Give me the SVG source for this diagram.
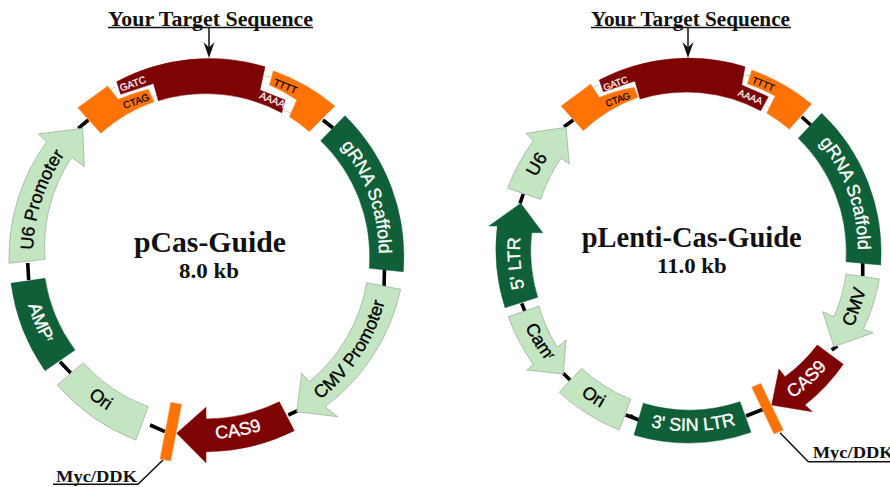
<svg xmlns="http://www.w3.org/2000/svg" xmlns:xlink="http://www.w3.org/1999/xlink" width="890" height="487" viewBox="0 0 890 487">
<style>
.lg{fill:#c3e5c1;stroke:#9aa89a;stroke-width:.7}
.dg{fill:#0f5f38;stroke:#0f5f38;stroke-width:.5}
.dr{fill:#7e0303;stroke:#7e0303;stroke-width:.5}
.or{fill:#ff7305;stroke:#e8a070;stroke-width:.5}
.bb{fill:none;stroke:#000;stroke-width:3.6}
.th{fill:none;stroke:#111;stroke-width:1.5}
.tl{font-family:"Liberation Sans",Arial,sans-serif;font-size:18px;text-anchor:middle;stroke-width:.35}
.k{fill:#000;stroke:#000}.w{fill:#fff;stroke:#fff}
.sm{font-family:"Liberation Sans",Arial,sans-serif;font-size:10px;text-anchor:middle;stroke-width:.2}
.sb{font-size:9.5px}
.se{font-family:"Liberation Serif","Times New Roman",serif;font-weight:bold;fill:#111}
</style>
<defs>
<path id="cwA" d="M33,254A173,173 0 0 1 379,254"/>
<path id="ccA" d="M21,254A185,185 0 0 0 391,254"/>
<path id="cwB" d="M520,250A169,169 0 0 1 858,250"/>
<path id="ccB" d="M508,250A181,181 0 0 0 870,250"/>
</defs>
<rect width="890" height="487" fill="#fff"/>
<g id="connectors">
<path class="bb" d="M78.3,128.3L88.3,120M323,120L333,128M384.5,268L384,288M288.3,415L297.7,410.7M150,425L165,431.7M60,361.7L70.7,373M27.7,263L28.7,280"/>
<path class="bb" d="M564,126.7L573.3,120M801.7,116.7L810.7,125M862.7,262L862.7,276M831.7,350L837.3,346M520,203.3L523.3,194M521.7,303.3L525,311.7M563.3,373.3L570,380M625.7,415L639.3,420M630,415.7L638,420M746,416L763.3,409.3"/>
<path class="th" d="M163,460L138,484.3H53"/>
<path class="th" d="M780,432.7L808.3,461.7H890"/>
<path class="th" d="M209,27V50M108,27.5H313"/>
<path class="th" d="M688,27V50M591,27.5H791"/>
<path fill="#111" d="M203.5,42L209,58L214.5,42L209,47.5Z"/>
<path fill="#111" d="M682.5,42L688,58L693.5,42L688,47.5Z"/>
<path fill="none" stroke="#ccc" stroke-width="1" d="M109,91L115,87M152,97L157,95M265,76L270,77M286,111L291,113M593,88L598,85M637,92L642,91M746,75L751,76M766,105L770,108"/>
</g>
<g id="title-a"><text class="se" x="108" y="26" font-size="20" textLength="205" lengthAdjust="spacingAndGlyphs">Your Target Sequence</text></g>
<g id="title-b"><text class="se" x="591" y="26" font-size="20" textLength="199" lengthAdjust="spacingAndGlyphs">Your Target Sequence</text></g>
<g id="center-a"><text class="se" x="134" y="251.7" font-size="30" textLength="152" lengthAdjust="spacingAndGlyphs">pCas-Guide</text><text class="se" x="179" y="278" font-size="20" textLength="60" lengthAdjust="spacingAndGlyphs">8.0 kb</text></g>
<g id="center-b"><text class="se" x="581.7" y="246.7" font-size="30" textLength="220" lengthAdjust="spacingAndGlyphs">pLenti-Cas-Guide</text><text class="se" x="657" y="272.7" font-size="20" textLength="69.7" lengthAdjust="spacingAndGlyphs">11.0 kb</text></g>

<g id="a-insert">
<path class="dr" d="M116.7,81.7A196,196 0 0 1 265,66.7L260,90L285,100L281.7,112.7A161,161 0 0 0 158.3,100.7L153.5,83.5L120.7,94.3Z"/>
<path class="or" d="M77.7,107.7L107.7,86L118.3,99.3A175,175 0 0 1 148.3,89.3L154.3,101.7A161,161 0 0 0 100.7,133.3Z"/>
<path class="or" d="M273.3,70.7A196,196 0 0 1 335,106L309.3,131.7A161,161 0 0 0 289.3,116.7L296.7,100A175,175 0 0 0 269.3,85Z"/>
<text class="sm w" transform="translate(134,87) rotate(-20)">GATC</text>
<text class="sm k" transform="translate(137.3,104.5) rotate(-20)">CTAG</text>
<text class="sm k" transform="translate(284,89.5) rotate(22)">TTTT</text>
<text class="sm w" transform="translate(271,103) rotate(22)">AAAA</text>
</g>
<g id="a-u6"><path class="lg" d="M9,263.3A198,198 0 0 1 46.7,141.7L38.3,134L82.7,128.3L84.3,166.7L71.7,157.3A165,165 0 0 0 45,259.3Z"/>
<text class="tl k" transform="rotate(-71.8 206 254)"><textPath href="#cwA" xlink:href="#cwA" startOffset="50%">U6 Promoter</textPath></text></g>
<g id="a-grna"><path class="dg" d="M345,115.7L320.7,140.7A161,161 0 0 1 369.3,268.3L403.3,271.7A198,198 0 0 0 345,115.7Z"/>
<text class="tl w" transform="rotate(70.6 206 254)"><textPath href="#cwA" xlink:href="#cwA" startOffset="50%">gRNA Scaffold</textPath></text></g>
<g id="a-cmv"><path class="lg" d="M366.7,282.7L400.7,289.3A198,198 0 0 1 325,406.7L337.7,416.7L296.7,411.7L301.7,373.3L309.3,381.7A163,163 0 0 0 366.7,282.7Z"/>
<text class="tl k" transform="rotate(-56.5 206 254)"><textPath href="#ccA" xlink:href="#ccA" startOffset="50%">CMV Promoter</textPath></text></g>
<g id="a-cas9"><path class="dr" d="M176.7,433.3L206,407.3V419A165,165 0 0 0 279.3,401.7L294.3,430.7A198,198 0 0 1 206,451.7V462.7Z"/>
<text class="tl w" transform="rotate(-10.3 206 254)"><textPath href="#ccA" xlink:href="#ccA" startOffset="50%">CAS9</textPath></text></g>
<g id="a-myc"><path class="or" d="M170.7,402.3L181.7,404.3L170.7,461L160,459Z"/>
<text class="se" x="56" y="481.5" font-size="16" textLength="81" lengthAdjust="spacingAndGlyphs">Myc/DDK</text></g>
<g id="a-ori"><path class="lg" d="M83.3,362.7A161,161 0 0 0 148.3,406.7L135.7,440A198,198 0 0 1 57.3,385Z"/>
<text class="tl k" transform="rotate(35.9 206 254)"><textPath href="#ccA" xlink:href="#ccA" startOffset="50%">Ori</textPath></text></g>
<g id="a-amp"><path class="dg" d="M11,283.3L45,278.3A161,161 0 0 0 75,350L45,370.7A198,198 0 0 1 11,283.3Z"/>
<text class="tl w" transform="rotate(67.4 206 254)"><textPath href="#ccA" xlink:href="#ccA" startOffset="50%">AMP<tspan font-size="9" dy="-5">r</tspan></textPath></text></g>

<g id="b-insert">
<path class="dr" d="M599.3,80A192,192 0 0 1 745,66.7L741.7,85L768.3,96.7L760.7,110.7A158,158 0 0 0 640,99L635,81L603.3,91.7Z"/>
<path class="or" d="M561,106L590.7,84L599.3,97.3A172,172 0 0 1 634,87.3L638.3,97.3A158,158 0 0 0 583.3,130.7Z"/>
<path class="or" d="M751.7,70A192,192 0 0 1 811.7,104L789.3,129.3A158,158 0 0 0 766.7,113.3L775,96A172,172 0 0 0 747.3,84Z"/>
<text class="sm sb w" transform="translate(616.7,86.5) rotate(-20)">GATC</text>
<text class="sm sb k" transform="translate(619,102.5) rotate(-20)">CTAG</text>
<text class="sm sb k" transform="translate(762,87) rotate(22)">TTTT</text>
<text class="sm sb w" transform="translate(749,100) rotate(22)">AAAA</text>
</g>
<g id="b-u6"><path class="lg" d="M507.7,188.3A192,192 0 0 1 533.3,140.7L526,133.3L566,127.3L569.3,164L561,158.3A158,158 0 0 0 540.7,199.3Z"/>
<text class="tl k" transform="rotate(-60.6 689 250)"><textPath href="#cwB" xlink:href="#cwB" startOffset="50%">U6</textPath></text></g>
<g id="b-ltr5"><path class="dg" d="M505,307.7L537.7,297.3A158,158 0 0 1 531.7,232.7H542.7L520.7,203.3L489,226H497.3A193,193 0 0 0 505,307.7Z"/>
<text class="tl w" transform="rotate(-94.4 689 250)"><textPath href="#cwB" xlink:href="#cwB" startOffset="50%">5' LTR</textPath></text></g>
<g id="b-cam"><path class="lg" d="M508.3,316.7L539,306A158,158 0 0 0 557.3,347.3L566,340L563.3,374L526.7,370L533.3,364.3A192,192 0 0 1 508.3,316.7Z"/>
<text class="tl k" transform="rotate(58.4 689 250)"><textPath href="#ccB" xlink:href="#ccB" startOffset="50%">Cam<tspan font-size="9" dy="-5">r</tspan></textPath></text></g>
<g id="b-ori"><path class="lg" d="M581.7,368.3A158,158 0 0 0 630.7,399.3L619.3,430A192,192 0 0 1 559.3,392.3Z"/>
<text class="tl k" transform="rotate(33 689 250)"><textPath href="#ccB" xlink:href="#ccB" startOffset="50%">Ori</textPath></text></g>
<g id="b-ltr3"><path class="dg" d="M643.3,403.3A160,160 0 0 0 740,401.7L751,432.3A192,192 0 0 1 634,435Z"/>
<text class="tl w" transform="rotate(-1.4 689 250)"><textPath href="#ccB" xlink:href="#ccB" startOffset="50%">3' SIN LTR</textPath></text></g>
<g id="b-myc"><path class="or" d="M751.7,387.3L760.7,383.3L783.3,430L774,434Z"/>
<text class="se" x="812.7" y="458" font-size="16" textLength="81" lengthAdjust="spacingAndGlyphs">Myc/DDK</text></g>
<g id="b-cas9"><path class="dr" d="M771.7,405L779,369L785,376.7A158,158 0 0 0 817.3,345L843.3,364.3A192,192 0 0 1 805,405L812.3,411.7Z"/>
<text class="tl w" transform="rotate(-42.3 689 250)"><textPath href="#ccB" xlink:href="#ccB" startOffset="50%">CAS9</textPath></text></g>
<g id="b-cmv"><path class="lg" d="M846,274L879.3,279A192,192 0 0 1 863.3,329.3L873.3,332.7L834,346.7L822.7,311.7L834,316.7A158,158 0 0 0 846,274Z"/>
<text class="tl k" transform="rotate(-71 689 250)"><textPath href="#ccB" xlink:href="#ccB" startOffset="50%">CMV</textPath></text></g>
<g id="b-grna"><path class="dg" d="M821.7,113.3L798.3,138.3A158,158 0 0 1 846,261.7L880.7,265A192,192 0 0 0 821.7,113.3Z"/>
<text class="tl w" transform="rotate(70.2 689 250)"><textPath href="#cwB" xlink:href="#cwB" startOffset="50%">gRNA Scaffold</textPath></text></g>
</svg>
